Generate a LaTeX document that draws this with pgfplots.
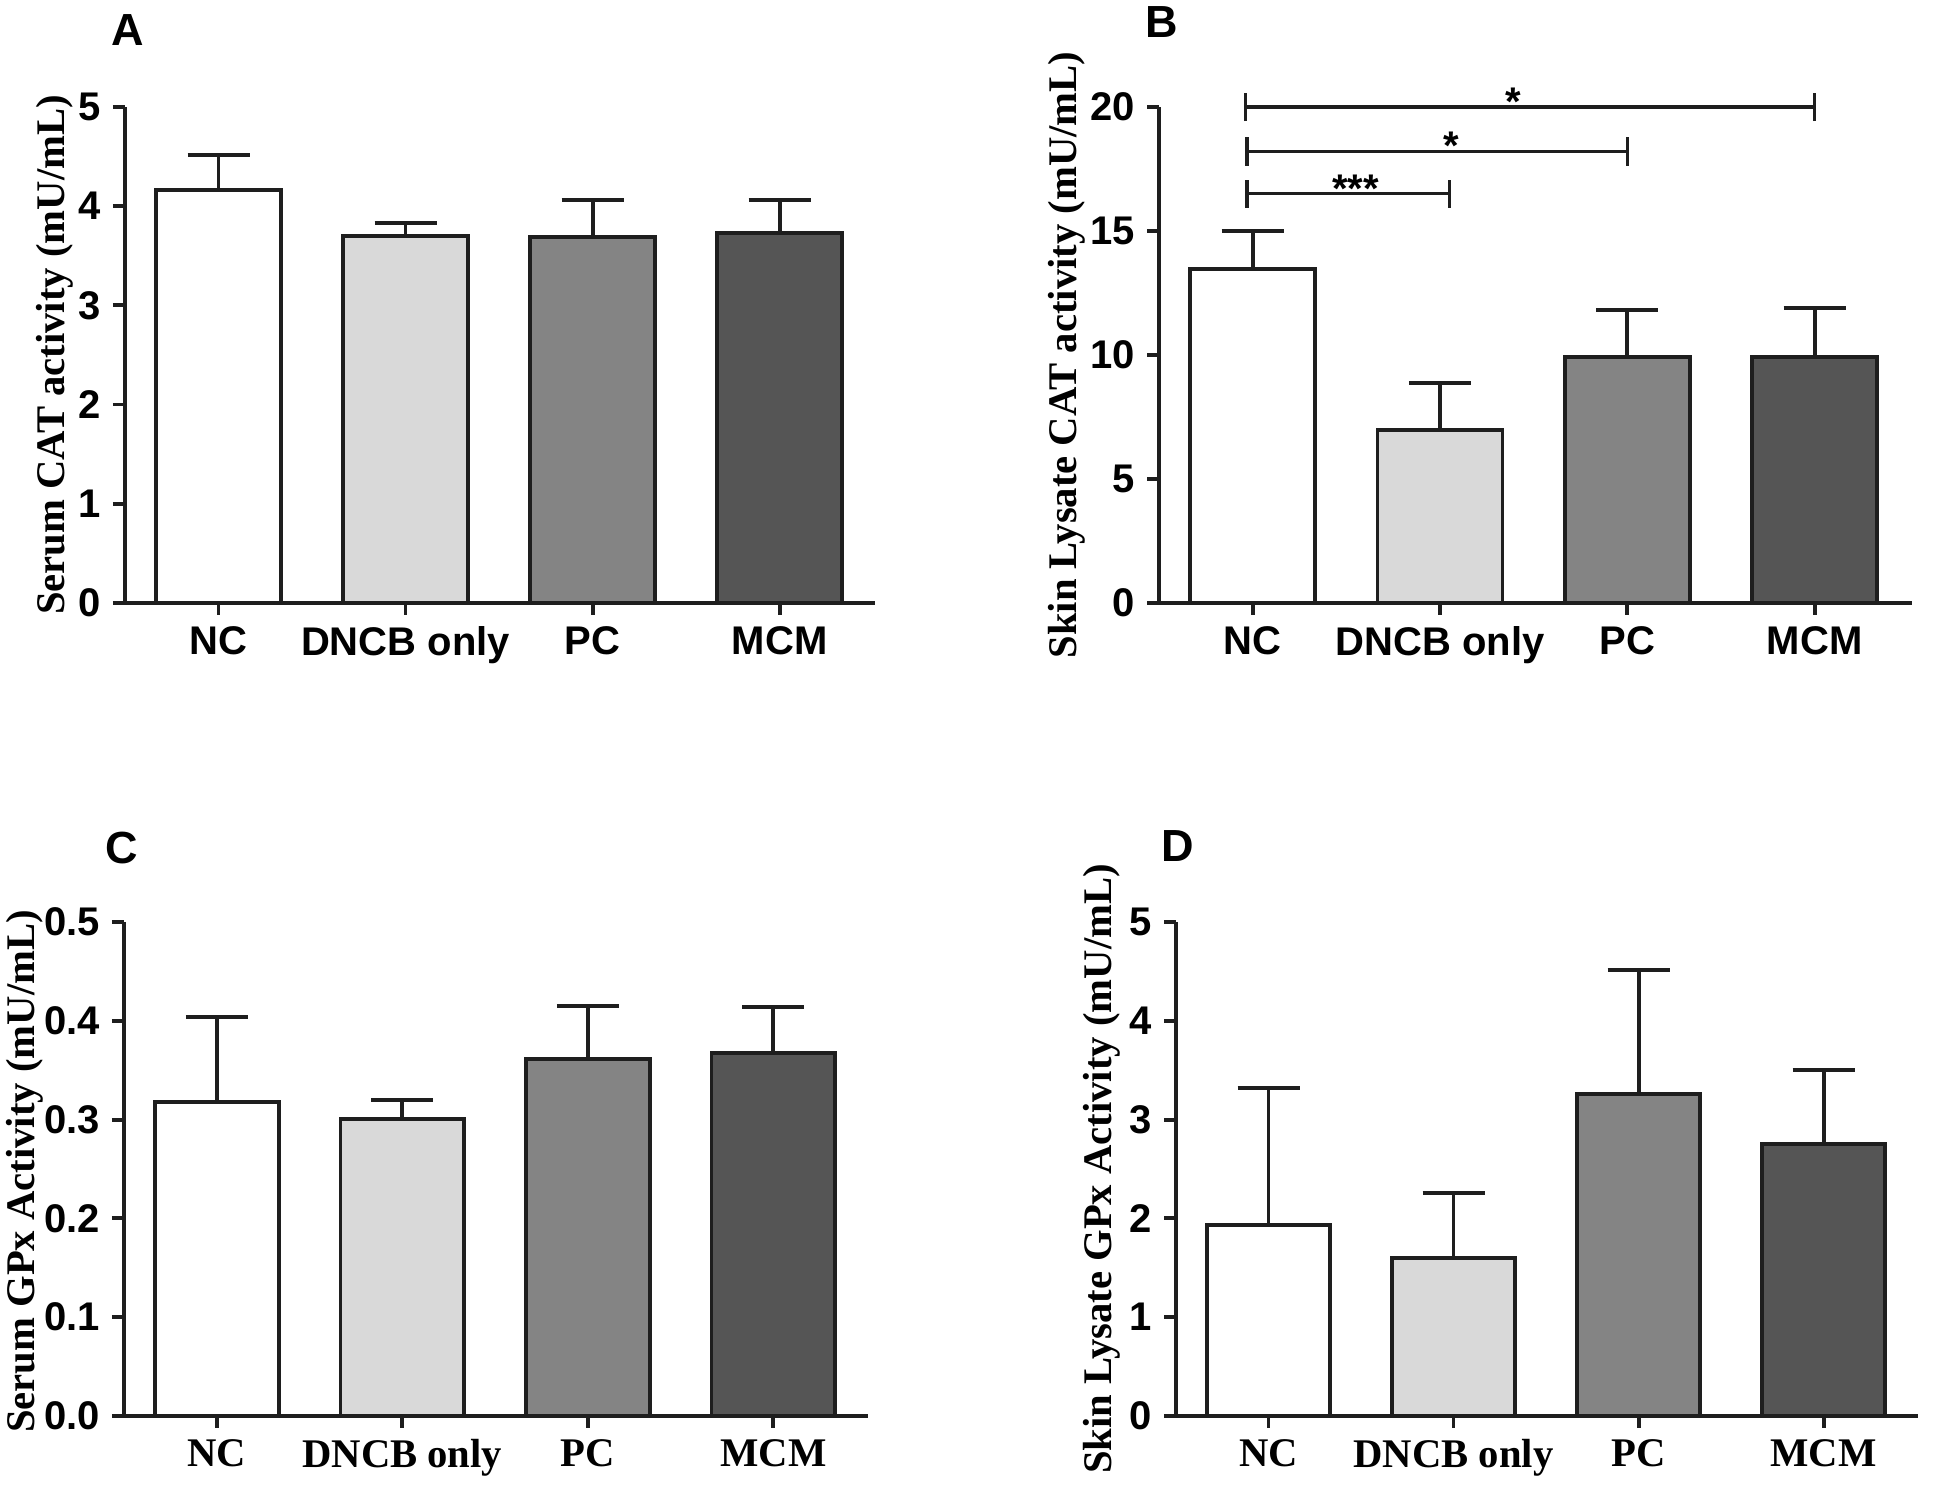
\documentclass[border=0pt]{standalone}
\usepackage{pgfplots}
\pgfplotsset{compat=1.18}
\usepackage{fontspec}
\setmainfont{Liberation Serif}
\setsansfont{Liberation Sans}
\definecolor{cNC}{HTML}{FFFFFF}
\definecolor{cDN}{HTML}{D9D9D9}
\definecolor{cPC}{HTML}{848484}
\definecolor{cMC}{HTML}{555555}
\definecolor{edge}{HTML}{1E1E1E}
\newcommand{\sansb}{\fontsize{12}{14}\selectfont\sffamily\bfseries}
\newcommand{\serifb}{\fontsize{12.2}{14}\selectfont\rmfamily\bfseries}
\newcommand{\letterf}{\fontsize{13.5}{15}\selectfont\sffamily\bfseries}
\pgfplotsset{
  panel/.style={
    scale only axis, anchor=south west,
    axis x line*=bottom, axis y line*=left,
    axis line style={line width=1.15pt, edge},
    tick style={line width=1.15pt, edge},
    major tick length=3.6pt,
    tick align=outside,
    xtick={0,1,2,3},
    xticklabels={NC,DNCB only,PC,MCM},
    ymin=0, clip=false,
    yticklabel style={font=\sansb},
    ylabel style={font=\serifb, anchor=center},
  },
  mybar/.style={ybar, bar shift=0pt, bar width=0.667, draw=edge, line width=1.15pt, fill=#1,
     error bars/.cd, y dir=plus, y explicit,
     error bar style={line width=1.15pt, edge},
     error mark options={rotate=90, line width=1.15pt, edge, mark size=9.3pt}},
}
\begin{document}
\begin{tikzpicture}
\useasboundingbox (0,0) rectangle (583.8pt,446.1pt);
% Panel A
\begin{axis}[panel, at={(37.5pt,265.2pt)}, width=225pt, height=148.8pt,
  xmin=-0.5, xmax=3.51, ymax=5,
  ytick={0,1,2,3,4,5}, yticklabels={0,1,2,3,4,5},
  xticklabel style={font=\sansb},
  ylabel={Serum CAT activity (mU/mL)},
  ylabel style={at={(axis description cs:-0.094,0.5)}}]
\addplot[mybar=cNC] coordinates {(0,4.16) +- (0,0.36)};
\addplot[mybar=cDN] coordinates {(1,3.70) +- (0,0.13)};
\addplot[mybar=cPC] coordinates {(2,3.69) +- (0,0.37)};
\addplot[mybar=cMC] coordinates {(3,3.73) +- (0,0.33)};
\end{axis}
% Panel B
\begin{axis}[panel, at={(347.7pt,265.2pt)}, width=225.9pt, height=148.8pt,
  xmin=-0.5, xmax=3.52, ymax=20,
  ytick={0,5,10,15,20}, yticklabels={0,5,10,15,20},
  xticklabel style={font=\sansb},
  ylabel={Skin Lysate CAT activity (mU/mL)},
  ylabel style={at={(axis description cs:-0.1226,0.5)}}]
\addplot[mybar=cNC] coordinates {(0,13.47) +- (0,1.52)};
\addplot[mybar=cDN] coordinates {(1,6.98) +- (0,1.88)};
\addplot[mybar=cPC] coordinates {(2,9.93) +- (0,1.88)};
\addplot[mybar=cMC] coordinates {(3,9.93) +- (0,1.95)};
\draw[line width=1pt, edge] (axis cs:-0.04,20) -- (axis cs:3,20)
  (axis cs:-0.04,19.43) -- (axis cs:-0.04,20.57) (axis cs:3,19.43) -- (axis cs:3,20.57);
\draw[line width=1pt, edge] (axis cs:-0.03,18.2) -- (axis cs:2,18.2)
  (axis cs:-0.03,17.63) -- (axis cs:-0.03,18.77) (axis cs:2,17.63) -- (axis cs:2,18.77);
\draw[line width=1pt, edge] (axis cs:-0.03,16.5) -- (axis cs:1.05,16.5)
  (axis cs:-0.03,15.93) -- (axis cs:-0.03,17.07) (axis cs:1.05,15.93) -- (axis cs:1.05,17.07);
\node[font=\sansb, anchor=base, yshift=-2.5pt] at (axis cs:1.39,20) {*};
\node[font=\sansb, anchor=base, yshift=-2.5pt] at (axis cs:1.06,18.2) {*};
\node[font=\sansb, anchor=base, yshift=-2.5pt] at (axis cs:0.55,16.5) {***};
\end{axis}
% Panel C
\begin{axis}[panel, at={(37.2pt,21.3pt)}, width=223.2pt, height=148.2pt,
  xmin=-0.5, xmax=3.51, ymax=0.5,
  ytick={0,0.1,0.2,0.3,0.4,0.5}, yticklabels={0.0,0.1,0.2,0.3,0.4,0.5},
  xticklabel style={font=\serifb},
  ylabel={Serum GPx Activity (mU/mL)},
  ylabel style={at={(axis description cs:-0.133,0.495)}}]
\addplot[mybar=cNC] coordinates {(0,0.318) +- (0,0.086)};
\addplot[mybar=cDN] coordinates {(1,0.301) +- (0,0.019)};
\addplot[mybar=cPC] coordinates {(2,0.361) +- (0,0.054)};
\addplot[mybar=cMC] coordinates {(3,0.367) +- (0,0.047)};
\end{axis}
% Panel D
\begin{axis}[panel, at={(352.8pt,21.3pt)}, width=222.6pt, height=148.2pt,
  xmin=-0.5, xmax=3.51, ymax=5,
  ytick={0,1,2,3,4,5}, yticklabels={0,1,2,3,4,5},
  xticklabel style={font=\serifb},
  ylabel={Skin Lysate GPx Activity (mU/mL)},
  ylabel style={at={(axis description cs:-0.100,0.5)}}]
\addplot[mybar=cNC] coordinates {(0,1.93) +- (0,1.39)};
\addplot[mybar=cDN] coordinates {(1,1.60) +- (0,0.66)};
\addplot[mybar=cPC] coordinates {(2,3.26) +- (0,1.25)};
\addplot[mybar=cMC] coordinates {(3,2.75) +- (0,0.75)};
\end{axis}
\node[font=\letterf] at (38.4pt,437.1pt) {A};
\node[font=\letterf] at (348.6pt,439.5pt) {B};
\node[font=\letterf] at (36.6pt,191.7pt) {C};
\node[font=\letterf] at (353.4pt,192.3pt) {D};
\end{tikzpicture}
\end{document}
